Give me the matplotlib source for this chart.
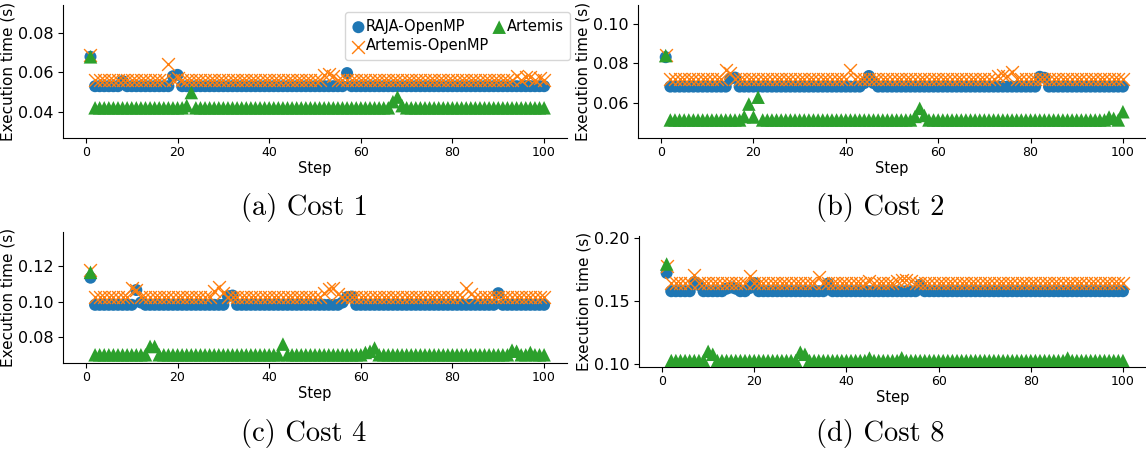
import numpy as np
import matplotlib
matplotlib.use("Agg")
import matplotlib.pyplot as plt

steps = list(range(1, 101))

def series(base, overrides):
    vals = [base] * 100
    for s, v in overrides.items():
        vals[s - 1] = v
    return vals

# ---- Cost 1 ----
raja_c1 = series(0.0530, {1: 0.0678, 8: 0.0556, 19: 0.0580, 20: 0.0587, 57: 0.0596})
artomp_c1 = series(0.0562, {1: 0.0685, 18: 0.0640, 20: 0.0570, 52: 0.0585, 53: 0.0592,
                            54: 0.0580, 94: 0.0583, 96: 0.0576, 97: 0.0578, 99: 0.0572})
artemis_c1 = series(0.0421, {1: 0.0678, 22: 0.0432, 23: 0.0498, 67: 0.0452, 68: 0.0475,
                             69: 0.0432})

# ---- Cost 2 ----
raja_c2 = series(0.0682, {1: 0.0832, 15: 0.0722, 16: 0.0728, 45: 0.0736, 44: 0.0700,
                          46: 0.0700, 82: 0.0732, 83: 0.0727})
artomp_c2 = series(0.0719, {1: 0.0842, 14: 0.0768, 15: 0.0752, 41: 0.0767, 73: 0.0735,
                            74: 0.0740, 76: 0.0757, 75: 0.0738})
artemis_c2 = series(0.0512, {1: 0.0840, 18: 0.0529, 19: 0.0593, 20: 0.0527, 21: 0.0628,
                             55: 0.0530, 56: 0.0571, 57: 0.0535, 97: 0.0527, 98: 0.0520,
                             100: 0.0554})

# ---- Cost 4 ----
raja_c4 = series(0.0982, {1: 0.1134, 11: 0.1065, 12: 0.0995, 31: 0.1030, 32: 0.1034,
                          56: 0.0995, 57: 0.1025, 58: 0.1028, 90: 0.1047})
artomp_c4 = series(0.1028, {1: 0.1177, 10: 0.1075, 11: 0.1065, 28: 0.1060, 29: 0.1080,
                            30: 0.1050, 52: 0.1050, 53: 0.1068, 54: 0.1075, 55: 0.1045,
                            83: 0.1075, 84: 0.1045})
artemis_c4 = series(0.0702, {1: 0.1164, 14: 0.0749, 15: 0.0749, 43: 0.0762, 61: 0.0715,
                             62: 0.0722, 63: 0.0740, 93: 0.0728, 94: 0.0722, 97: 0.0715})

# ---- Cost 8 ----
raja_c8 = series(0.1580, {1: 0.1725, 7: 0.1653, 8: 0.1630, 14: 0.1600, 15: 0.1610,
                          16: 0.1600, 19: 0.1605, 20: 0.1645, 36: 0.1640, 56: 0.1630})
artomp_c8 = series(0.1645, {1: 0.1780, 7: 0.1712, 19: 0.1703, 34: 0.1690, 45: 0.1660,
                            51: 0.1662, 52: 0.1668, 53: 0.1670, 54: 0.1665})
artemis_c8 = series(0.1030, {1: 0.1796, 10: 0.1103, 11: 0.1080, 30: 0.1096, 31: 0.1080,
                             45: 0.1050, 52: 0.1052, 88: 0.1050})

panels = [
    ("(a) Cost 1", raja_c1, artomp_c1, artemis_c1, (0.0269, 0.0939), [0.04, 0.06, 0.08]),
    ("(b) Cost 2", raja_c2, artomp_c2, artemis_c2, (0.0420, 0.1098), [0.06, 0.08, 0.10]),
    ("(c) Cost 4", raja_c4, artomp_c4, artemis_c4, (0.0656, 0.1390), [0.08, 0.10, 0.12]),
    ("(d) Cost 8", raja_c8, artomp_c8, artemis_c8, (0.0979, 0.2018), [0.10, 0.15, 0.20]),
]

W, H = 1146, 449
fig = plt.figure(figsize=(W / 100, H / 100), dpi=100)

# axes boxes in pixels: left, top, right, bottom
boxes = [(63, 5, 567, 138), (638, 5, 1146, 138), (63, 232, 567, 363), (639, 236, 1146, 367)]
captions_xy = [(304, 208), (880, 208), (304, 433), (880, 433)]

blue, orange, green = "#1f77b4", "#ff7f0e", "#2ca02c"

for i, (cap, r, ao, a, ylim, yt) in enumerate(panels):
    l, t, rr, b = boxes[i]
    ax = fig.add_axes([l / W, 1 - b / H, (rr - l) / W, (b - t) / H])
    ax.scatter(steps, r, s=75, color=blue, edgecolors="none",
               label="RAJA-OpenMP", zorder=2)
    ax.scatter(steps, ao, s=85, color=orange, marker="x", linewidths=1.0,
               label="Artemis-OpenMP", zorder=3)
    ax.scatter(steps, a, s=95, color=green, marker="^", edgecolors="none",
               label="Artemis", zorder=4)
    ax.set_xlim(-5, 105)
    ax.set_ylim(*ylim)
    ax.set_yticks(yt)
    ax.set_yticklabels([f"{v:.2f}" for v in yt])
    ax.set_xticks([0, 20, 40, 60, 80, 100])
    ax.spines["top"].set_visible(False)
    ax.spines["right"].set_visible(False)
    ax.tick_params(axis="y", labelsize=11.5, pad=3)
    ax.tick_params(axis="x", labelsize=9, pad=2.5)
    ax.set_xlabel("Step", fontsize=10.5, labelpad=1)
    ax.set_ylabel("Execution time (s)", fontsize=11, labelpad=2)
    if i == 0:
        ax.legend(loc="upper right", ncol=2, fontsize=10.5, handletextpad=0.05,
                  handlelength=0.9, columnspacing=0.25, borderpad=0.45,
                  labelspacing=0.3, borderaxespad=0.0,
                  bbox_to_anchor=(1.006, 0.944))
    cx, cy = captions_xy[i]
    fig.text(cx / W, 1 - cy / H, cap, family="cmr10", fontsize=20.5,
             ha="center", va="center")

fig.savefig("out.png", dpi=100)
